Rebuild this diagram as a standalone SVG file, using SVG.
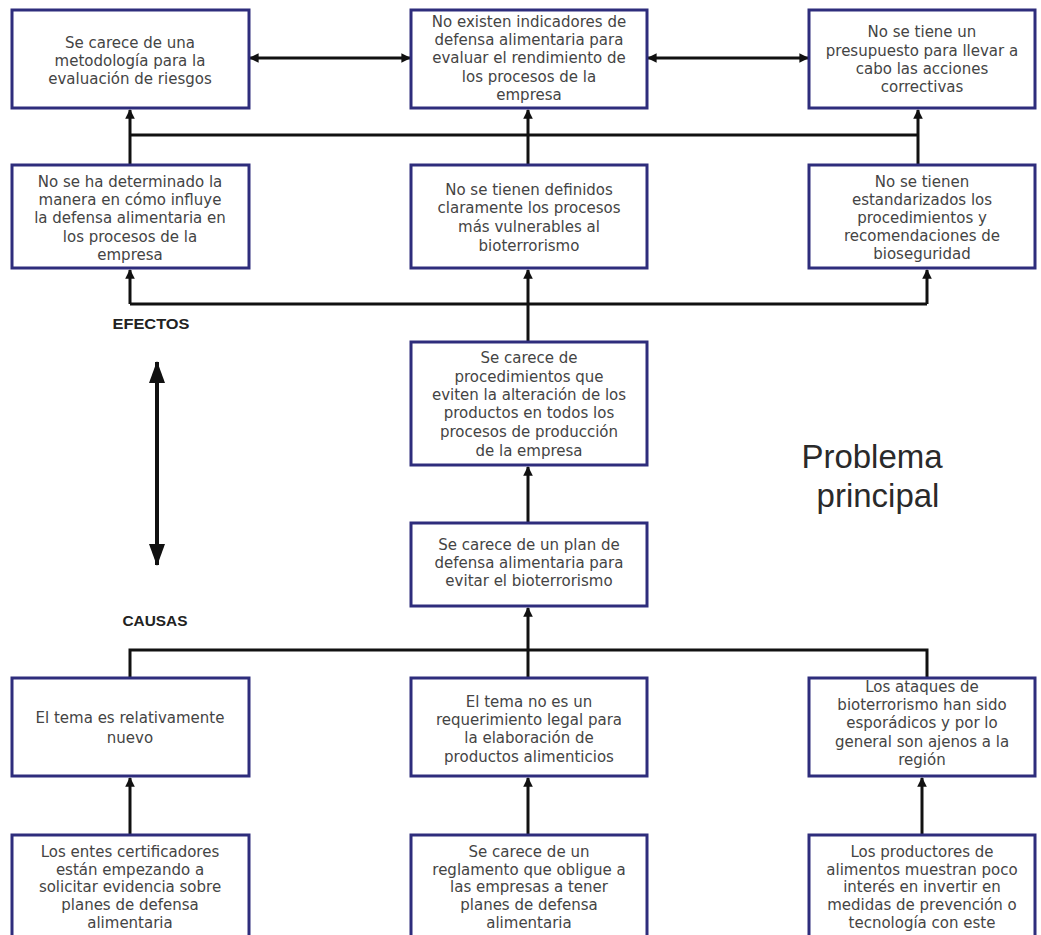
<svg xmlns="http://www.w3.org/2000/svg" width="1041" height="935" viewBox="0 0 1041 935">
  <style>
    .box { fill: #ffffff; stroke: #2e2d7c; stroke-width: 3; }
    .t { font-family: "DejaVu Sans", Verdana, sans-serif; font-size: 15px; fill: #444444; text-anchor: middle; }
    .lbl { font-family: "Liberation Sans", Arial, sans-serif; font-weight: bold; font-size: 15px; fill: #222222; text-anchor: middle; }
    .big { font-family: "Liberation Sans", Arial, sans-serif; font-size: 33px; fill: #2a2a2a; text-anchor: middle; }
    .c { fill: none; stroke: #111111; stroke-width: 3; }
  </style>
  <defs>
    <marker id="ah" viewBox="0 0 10 10" refX="9" refY="5" markerWidth="3.2" markerHeight="3.2" orient="auto-start-reverse" markerUnits="strokeWidth">
      <path d="M0,0 L10,5 L0,10 z" fill="#111111"/>
    </marker>
    <marker id="bigah" viewBox="0 0 22 16" refX="21" refY="8" markerWidth="22" markerHeight="16" orient="auto-start-reverse" markerUnits="userSpaceOnUse">
      <path d="M0,0 L22,8 L0,16 z" fill="#111111"/>
    </marker>
  </defs>

  <rect width="1041" height="935" fill="#ffffff"/>

  <!-- connectors -->
  <g id="connectors">
    <!-- links between the effect boxes on the top row -->
    <path class="c" d="M250,58 H410" marker-start="url(#ah)" marker-end="url(#ah)"/>
    <path class="c" d="M648,58 H808" marker-start="url(#ah)" marker-end="url(#ah)"/>
    <!-- second row to top row -->
    <path class="c" d="M130,135 H918"/>
    <path class="c" d="M130,165 V110" marker-end="url(#ah)"/>
    <path class="c" d="M528,165 V110" marker-end="url(#ah)"/>
    <path class="c" d="M918,165 V110" marker-end="url(#ah)"/>
    <!-- main problem to second row -->
    <path class="c" d="M130,304 H927"/>
    <path class="c" d="M130,304 V270" marker-end="url(#ah)"/>
    <path class="c" d="M528,342 V270" marker-end="url(#ah)"/>
    <path class="c" d="M927,304 V270" marker-end="url(#ah)"/>
    <!-- plan to main problem -->
    <path class="c" d="M528,523 V467" marker-end="url(#ah)"/>
    <!-- causes to plan -->
    <path class="c" d="M130,678 V650 H927 V678"/>
    <path class="c" d="M528,678 V608" marker-end="url(#ah)"/>
    <!-- root causes to causes -->
    <path class="c" d="M130,835 V778" marker-end="url(#ah)"/>
    <path class="c" d="M528,835 V778" marker-end="url(#ah)"/>
    <path class="c" d="M922,835 V778" marker-end="url(#ah)"/>
    <!-- effects / causes axis -->
    <path d="M157,362 V565" stroke="#111111" stroke-width="4" fill="none" marker-start="url(#bigah)" marker-end="url(#bigah)"/>
  </g>

  <!-- effects -->
  <g id="efecto-metodologia">
    <rect class="box" x="12" y="10" width="237" height="98"/>
    <text class="t"><tspan x="130" y="48">Se carece de una</tspan><tspan x="130" y="66">metodología para la</tspan><tspan x="130" y="84">evaluación de riesgos</tspan></text>
  </g>
  <g id="efecto-indicadores">
    <rect class="box" x="411" y="10" width="236" height="98"/>
    <text class="t"><tspan x="529" y="27">No existen indicadores de</tspan><tspan x="529" y="45">defensa alimentaria para</tspan><tspan x="529" y="63">evaluar el rendimiento de</tspan><tspan x="529" y="82">los procesos de la</tspan><tspan x="529" y="100">empresa</tspan></text>
  </g>
  <g id="efecto-presupuesto">
    <rect class="box" x="809" y="10" width="226" height="98"/>
    <text class="t"><tspan x="922" y="37">No se tiene un</tspan><tspan x="922" y="56">presupuesto para llevar a</tspan><tspan x="922" y="74">cabo las acciones</tspan><tspan x="922" y="92">correctivas</tspan></text>
  </g>
  <g id="efecto-influencia">
    <rect class="box" x="12" y="165" width="237" height="103"/>
    <text class="t"><tspan x="130" y="187">No se ha determinado la</tspan><tspan x="130" y="205">manera en cómo influye</tspan><tspan x="130" y="223">la defensa alimentaria en</tspan><tspan x="130" y="242">los procesos de la</tspan><tspan x="130" y="260">empresa</tspan></text>
  </g>
  <g id="efecto-vulnerables">
    <rect class="box" x="411" y="165" width="236" height="103"/>
    <text class="t"><tspan x="529" y="195">No se tienen definidos</tspan><tspan x="529" y="213">claramente los procesos</tspan><tspan x="529" y="232">más vulnerables al</tspan><tspan x="529" y="251">bioterrorismo</tspan></text>
  </g>
  <g id="efecto-bioseguridad">
    <rect class="box" x="809" y="165" width="226" height="103"/>
    <text class="t"><tspan x="922" y="187">No se tienen</tspan><tspan x="922" y="205">estandarizados los</tspan><tspan x="922" y="223">procedimientos y</tspan><tspan x="922" y="241">recomendaciones de</tspan><tspan x="922" y="259">bioseguridad</tspan></text>
  </g>

  <g id="etiqueta-efectos">
    <text class="lbl" x="151" y="329" textLength="77" lengthAdjust="spacingAndGlyphs">EFECTOS</text>
  </g>

  <!-- main problem -->
  <g id="problema">
    <rect class="box" x="411" y="342" width="236" height="123"/>
    <text class="t"><tspan x="529" y="363">Se carece de</tspan><tspan x="529" y="382">procedimientos que</tspan><tspan x="529" y="400">eviten la alteración de los</tspan><tspan x="529" y="418">productos en todos los</tspan><tspan x="529" y="437">procesos de producción</tspan><tspan x="529" y="456">de la empresa</tspan></text>
  </g>
  <g id="titulo-problema">
    <text class="big"><tspan x="872" y="468">Problema</tspan><tspan x="878" y="507">principal</tspan></text>
  </g>
  <g id="plan">
    <rect class="box" x="411" y="523" width="236" height="83"/>
    <text class="t"><tspan x="529" y="550">Se carece de un plan de</tspan><tspan x="529" y="568">defensa alimentaria para</tspan><tspan x="529" y="586">evitar el bioterrorismo</tspan></text>
  </g>

  <g id="etiqueta-causas">
    <text class="lbl" x="155" y="626" textLength="65" lengthAdjust="spacingAndGlyphs">CAUSAS</text>
  </g>

  <!-- causes -->
  <g id="causa-nuevo">
    <rect class="box" x="12" y="678" width="237" height="98"/>
    <text class="t"><tspan x="130" y="723">El tema es relativamente</tspan><tspan x="130" y="743">nuevo</tspan></text>
  </g>
  <g id="causa-requerimiento">
    <rect class="box" x="411" y="678" width="236" height="98"/>
    <text class="t"><tspan x="529" y="707">El tema no es un</tspan><tspan x="529" y="725">requerimiento legal para</tspan><tspan x="529" y="743">la elaboración de</tspan><tspan x="529" y="762">productos alimenticios</tspan></text>
  </g>
  <g id="causa-ataques">
    <rect class="box" x="809" y="678" width="226" height="98"/>
    <text class="t"><tspan x="922" y="692">Los ataques de</tspan><tspan x="922" y="710">bioterrorismo han sido</tspan><tspan x="922" y="728">esporádicos y por lo</tspan><tspan x="922" y="747">general son ajenos a la</tspan><tspan x="922" y="765">región</tspan></text>
  </g>

  <g id="causa-certificadores">
    <rect class="box" x="12" y="835" width="237" height="110"/>
    <text class="t"><tspan x="130" y="857">Los entes certificadores</tspan><tspan x="130" y="875">están empezando a</tspan><tspan x="130" y="892">solicitar evidencia sobre</tspan><tspan x="130" y="910">planes de defensa</tspan><tspan x="130" y="928">alimentaria</tspan></text>
  </g>
  <g id="causa-reglamento">
    <rect class="box" x="411" y="835" width="236" height="110"/>
    <text class="t"><tspan x="529" y="857">Se carece de un</tspan><tspan x="529" y="875">reglamento que obligue a</tspan><tspan x="529" y="892">las empresas a tener</tspan><tspan x="529" y="910">planes de defensa</tspan><tspan x="529" y="928">alimentaria</tspan></text>
  </g>
  <g id="causa-productores">
    <rect class="box" x="809" y="835" width="226" height="110"/>
    <text class="t"><tspan x="922" y="857">Los productores de</tspan><tspan x="922" y="875">alimentos muestran poco</tspan><tspan x="922" y="892">interés en invertir en</tspan><tspan x="922" y="910">medidas de prevención o</tspan><tspan x="922" y="928">tecnología con este</tspan></text>
  </g>
</svg>
